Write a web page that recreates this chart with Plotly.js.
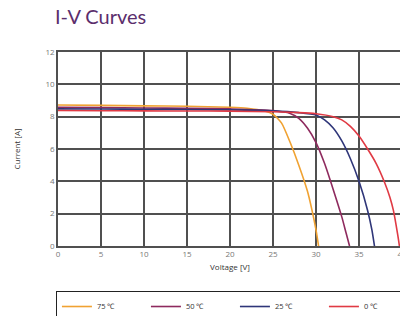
<!DOCTYPE html>
<html><head><meta charset="utf-8">
<script src="https://cdn.plot.ly/plotly-3.0.1.min.js"></script>
<style>html,body{margin:0;padding:0;overflow:hidden;background:#fff}#chart{width:440px;height:316px}</style>
</head><body><div id="chart"></div>
<script>
const seriesNames = ["75 \u2103", "50 \u2103", "25 \u2103", "0 \u2103"];
const v75 = [0,5,10,15,20,22,24,25,26,27,28,29,29.5,30,30.3];
const i75 = [8.72,8.70,8.67,8.64,8.58,8.52,8.35,8.15,7.6,6.4,5.0,3.4,2.3,1.0,0];
const v50 = [0,5,10,15,20,25,27,28,29,30,31,32,33,33.5,33.9];
const i50 = [8.58,8.56,8.54,8.52,8.48,8.38,8.2,7.9,7.3,6.4,5.1,3.5,1.8,0.8,0];
const v25 = [0,5,10,15,20,25,28,30,31,32,33,34,35,36,36.5,36.8];
const i25 = [8.48,8.47,8.46,8.44,8.42,8.36,8.25,8.1,7.8,7.3,6.5,5.4,4.0,2.2,1.0,0];
const v0 = [0,5,10,15,20,25,28,30,32,33,34,35,36,37,38,38.6,39,39.5,39.7];
const i0 = [8.38,8.37,8.36,8.35,8.34,8.3,8.25,8.18,8.0,7.8,7.4,6.8,6.0,5.1,3.9,3.0,2.2,0.7,0];
const xTicks = [0,5,10,15,20,25,30,35,40];
const yTicks = [0,2,4,6,8,10,12];
const colors = ["#f0a232","#8e2a5e","#2f3679","#e03a44"];
const xs = [v75,v50,v25,v0], ys = [i75,i50,i25,i0];
const traces = xs.map((x,k)=>({x:x,y:ys[k],name:seriesNames[k],type:"scatter",mode:"lines",
  line:{color:colors[k],width:1.6,shape:"spline",smoothing:0.6}}));
const W = 440;
const layout = {
  width:W,height:316,
  margin:{l:58,r:W-402,t:52,b:70,autoexpand:false},
  paper_bgcolor:"#fff",plot_bgcolor:"#fff",
  font:{family:"Open Sans, Liberation Sans, sans-serif",color:"#666",size:8},
  title:{text:"I-V Curves",x:55/W,xanchor:"left",xref:"container",y:0.968,yanchor:"top",
    font:{family:"Lato, Open Sans, sans-serif",size:20,color:"#5b2e6c"}},
  xaxis:{range:[0,40],tickvals:xTicks,ticktext:xTicks.map(String),showgrid:true,gridcolor:"#505050",gridwidth:1.7,
    zeroline:false,showline:true,linecolor:"#505050",linewidth:1.7,mirror:true,ticks:"",automargin:false,
    tickfont:{size:8,color:"#777"},
    title:{text:"Voltage [V]",font:{size:8,color:"#333"},standoff:6}},
  yaxis:{range:[0,12],tickvals:yTicks,ticktext:yTicks.map(String),showgrid:true,gridcolor:"#505050",gridwidth:1.7,
    zeroline:false,showline:true,linecolor:"#505050",linewidth:1.7,mirror:true,ticks:"",automargin:false,
    tickfont:{size:8,color:"#777"},
    title:{text:"Current [A]",font:{size:8,color:"#333"},standoff:24}},
  showlegend:true,
  legend:{orientation:"h",x:-0.006,xanchor:"left",y:-0.232,yanchor:"top",
    bordercolor:"#222",borderwidth:1,font:{size:7.5,color:"#333"},
    entrywidth:44,entrywidthmode:"pixels",tracegroupgap:0,itemwidth:30}
};
Plotly.newPlot("chart",traces,layout,{displayModeBar:false,staticPlot:true});
</script></body></html>
